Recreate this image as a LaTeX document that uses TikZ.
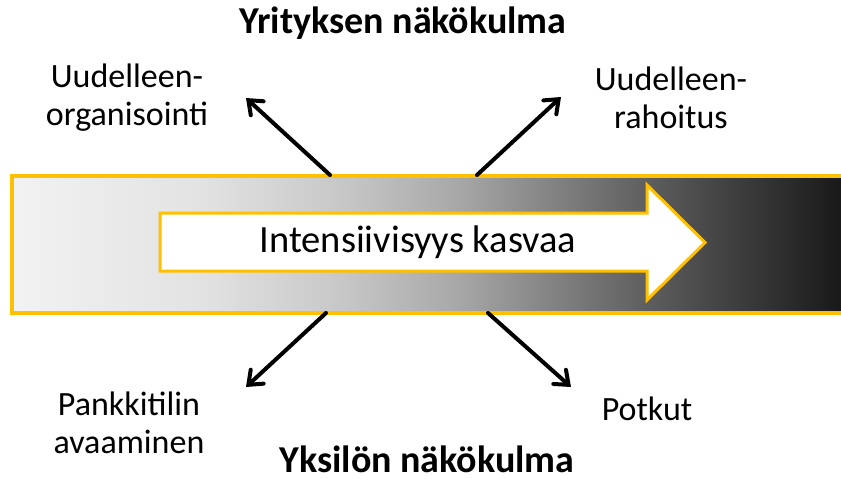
\documentclass[tikz,border=0pt]{standalone}
\usepackage{fontspec}
\setmainfont{Carlito}
\usetikzlibrary{arrows.meta}

\definecolor{gold}{HTML}{FFC000}
\definecolor{g0}{HTML}{F2F2F2}
\definecolor{g1}{HTML}{E2E2E2}
\definecolor{g2}{HTML}{C6C6C6}
\definecolor{g3}{HTML}{A8A8A8}
\definecolor{g4}{HTML}{6A6A6A}
\definecolor{g5}{HTML}{484848}
\definecolor{g6}{HTML}{161616}

% light-to-dark band behind the central arrow
\pgfdeclarehorizontalshading{intensity}{100bp}{%
  color(0bp)=(g0); color(25bp)=(g0); color(36.5bp)=(g1); color(45bp)=(g2);
  color(51.5bp)=(g3); color(61bp)=(g4); color(66.5bp)=(g5);
  color(75bp)=(g6); color(100bp)=(g6)}

\tikzset{
  band/.style={draw=gold, line width=4pt, shading=intensity},
  bigarrow/.style={draw=gold, line width=3pt, fill=white, line join=miter},
  label/.style={font=\fontsize{34}{38}\selectfont, align=center, inner sep=0pt},
  heading/.style={font=\fontsize{38}{44}\selectfont\bfseries, inner sep=0pt, anchor=base},
  ray/.style={line width=4pt, line cap=round,
    -{Straight Barb[length=12pt,width=19pt,line width=4pt,line cap=round]}},
}

\begin{document}
\begin{tikzpicture}[x=1pt, y=-1pt]
\useasboundingbox (0,0) rectangle (841,479);

% shaded band, running past the right edge
\path[band] (12,176) rectangle (850,313);

% white arrow inside the band
\draw[bigarrow] (160,213) -- (647,213) -- (647,185) -- (705,242.5)
  -- (647,300) -- (647,271) -- (160,271) -- cycle;
\node[font=\fontsize{38.5}{44}\selectfont, inner sep=0pt] (mid) at (418,242) {Intensiivisyys kasvaa};

% headings
\node[heading] (top) at (403,34) {Yrityksen näkökulma};
\node[heading] (bottom) at (427,472) {Yksilön näkökulma};

% corner labels
\node[label] (reorg) at (127,98) {Uudelleen-\\organisointi};
\node[label] (refin) at (671,98) {Uudelleen-\\rahoitus};
\node[label] (bank) at (129,423) {Pankkitilin\\avaaminen};
\node[label] (fire) at (647,409) {Potkut};

% rays leaving the band
\coordinate (tlBase) at (330,175);
\coordinate (tlTip) at (246,98);
\coordinate (trBase) at (477,175);
\coordinate (trTip) at (561,97);
\coordinate (blBase) at (326,313);
\coordinate (blTip) at (246,387);
\coordinate (brBase) at (488,313);
\coordinate (brTip) at (571,387);

\draw[ray] (tlBase) -- (tlTip);
\draw[ray] (trBase) -- (trTip);
\draw[ray] (blBase) -- (blTip);
\draw[ray] (brBase) -- (brTip);
\end{tikzpicture}
\end{document}
